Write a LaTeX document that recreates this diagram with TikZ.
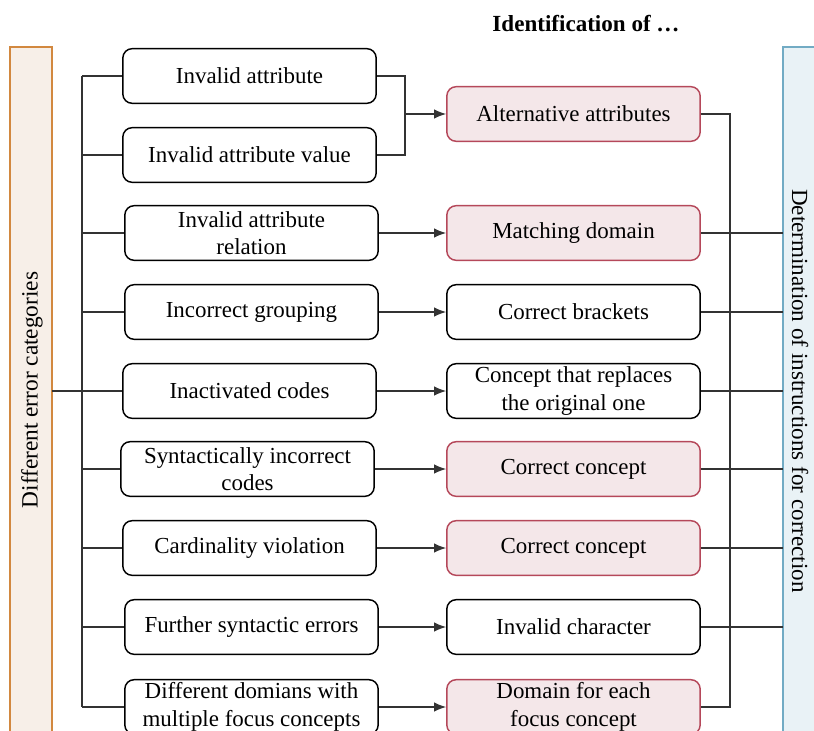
\documentclass[tikz,border=0pt]{standalone}
\usepackage{fontspec}
\setmainfont{Liberation Serif}
\usetikzlibrary{arrows.meta}

\definecolor{catfill}{HTML}{F7EFE8}
\definecolor{catdraw}{HTML}{D2883F}
\definecolor{corfill}{HTML}{E9F2F6}
\definecolor{cordraw}{HTML}{72ABC4}
\definecolor{idfill}{HTML}{F4E7E9}
\definecolor{iddraw}{HTML}{B5485A}

\tikzset{
  errbox/.style={draw=black,line width=1.1pt,rounded corners=7pt,fill=white,
    minimum width=190pt,minimum height=41pt,align=center,inner sep=2pt,
    font=\fontsize{17.2}{20.5}\selectfont},
  idbox/.style={errbox,draw=iddraw,fill=idfill},
  link/.style={line width=0.8pt,draw=black!80},
  arr/.style={link,-{Latex[length=9pt,width=7pt]}}
}

\begin{document}
\begin{tikzpicture}[x=0.75pt,y=-0.75pt]
\useasboundingbox (0,0) rectangle (814,731);
\begin{scope}
\clip (0,0) rectangle (814,731);

% Side bars
\filldraw[draw=catdraw,fill=catfill,line width=1.1pt] (10,47) rectangle (52,745);
\node[rotate=90,font=\fontsize{17.5}{20}\selectfont] (cat) at (32,390) {Different error categories};
\filldraw[draw=cordraw,fill=corfill,line width=1.1pt] (783,47) rectangle (830,745);
\node[rotate=-90,font=\fontsize{17.3}{20}\selectfont] (cor) at (800,391) {Determination of instructions for correction};

% Heading
\node[font=\fontsize{17.3}{20}\bfseries\selectfont] (head) at (586,24) {Identification of \dots};

% Error categories
\node[errbox] (e1) at (249.5,76) {Invalid attribute};
\node[errbox] (e2) at (249.5,155) {Invalid attribute value};
\node[errbox] (e3) at (251.5,233) {Invalid attribute\\relation};
\node[errbox] (e4) at (251.5,312) {Incorrect grouping};
\node[errbox] (e5) at (249.5,391) {Inactivated codes};
\node[errbox] (e6) at (247.5,469) {Syntactically incorrect\\codes};
\node[errbox] (e7) at (249.5,548) {Cardinality violation};
\node[errbox] (e8) at (251.5,627) {Further syntactic errors};
\node[errbox] (e9) at (251.5,707) {Different domians with\\multiple focus concepts};

% Identification
\node[idbox] (i1) at (573.5,114) {Alternative attributes};
\node[idbox] (i3) at (573.5,233) {Matching domain};
\node[errbox] (i4) at (573.5,312) {Correct brackets};
\node[errbox] (i5) at (573.5,391) {Concept that replaces\\the original one};
\node[idbox] (i6) at (573.5,469) {Correct concept};
\node[idbox] (i7) at (573.5,548) {Correct concept};
\node[errbox] (i8) at (573.5,627) {Invalid character};
\node[idbox] (i9) at (573.5,707) {Domain for each\\focus concept};

% Left tree
\coordinate (ltop) at (82,76);
\coordinate (lbot) at (82,707);
\draw[link] (ltop) -- (lbot);
\draw[link] (52,391) -- (82,391);
\foreach \n in {1,...,9} {
  \draw[link] (e\n.west) -- (e\n.west -| ltop);
}

% Merge of the first two categories
\coordinate (merge) at (405,114);
\draw[link] (e1.east) -| (merge) |- (e2.east);
\draw[arr] (merge) -- (i1.west);
\foreach \n in {3,...,9} {
  \draw[arr] (e\n.east) -- (i\n.west);
}

% Right tree
\coordinate (rtop) at (730,114);
\coordinate (rbot) at (730,707);
\draw[link] (i1.east) -- (rtop) -- (rbot) -- (i9.east);
\foreach \n in {3,...,8} {
  \draw[link] (i\n.east) -- (i\n.east -| 783,0);
}
\end{scope}
\end{tikzpicture}
\end{document}
